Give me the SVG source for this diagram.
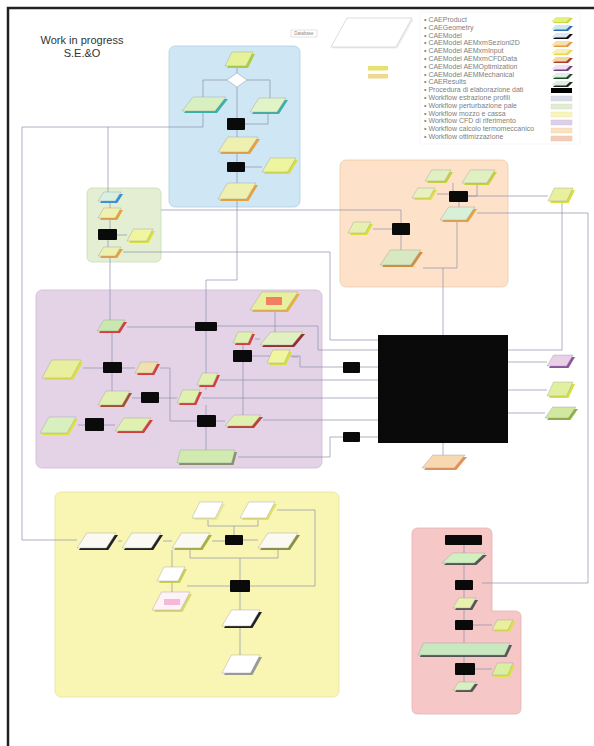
<svg xmlns="http://www.w3.org/2000/svg" xmlns:xlink="http://www.w3.org/1999/xlink" width="594" height="746" viewBox="0 0 594 746">
<style>
.grp{stroke-width:0.8}
.k{fill:#0a0a0a}
.f{stroke:#9a9a9a;stroke-width:0.4}
.ln{fill:none;stroke:#8d91ad;stroke-width:0.7}
.lg{font-family:"Liberation Sans",Arial,sans-serif;font-size:7px;fill:#808080}
.ttl{font-family:"Liberation Sans",Arial,sans-serif;font-size:11px;fill:#333}
</style>
<defs>
<path id="pg" d="M0.25,0 H1 L0.75,1 H0 Z" vector-effect="non-scaling-stroke"/>
<path id="pgw" d="M0.06,0 H1 L0.94,1 H0 Z" vector-effect="non-scaling-stroke"/>
</defs>
<rect width="594" height="746" fill="#fff"/>
<path d="M8,746 V8 H594" fill="none" stroke="#222" stroke-width="2.5"/>
<text class="ttl" x="82" y="44" text-anchor="middle">Work in progress</text>
<text class="ttl" x="82" y="57" text-anchor="middle">S.E.&amp;O</text>

<!-- header -->
<g id="database">
<rect x="291" y="30" width="26" height="7" fill="#fff" stroke="#bbb" stroke-width="0.4"/>
<text x="304" y="35.2" text-anchor="middle" font-family="Liberation Sans, Arial, sans-serif" font-size="4.5" fill="#888">Database</text>
</g>
<g id="legend-node">
<polygon points="347,18 412,18 396,47 331,47" fill="#eee" transform="translate(1.5,1.5)"/>
<polygon points="347,18 412,18 396,47 331,47" fill="#fff" stroke="#bbb" stroke-width="0.5"/>
</g>
<g id="datasets">
<rect x="368" y="66" width="20" height="4.5" fill="#e8e070"/>
<rect x="368" y="74" width="20" height="4.5" fill="#f0d890"/>
</g>

<!-- legend -->
<g id="legend">
<rect x="420" y="12" width="160" height="132" fill="#fff" stroke="#f0f0f0" stroke-width="0.6"/>
<g class="lg">
<text x="424" y="22">•  CAEProduct</text>
<text x="424" y="29.8">•  CAEGeometry</text>
<text x="424" y="37.6">•  CAEModel</text>
<text x="424" y="45.4">•  CAEModel AEMxmSezioni2D</text>
<text x="424" y="53.2">•  CAEModel AEMxmInput</text>
<text x="424" y="61">•  CAEModel AEMxmCFDData</text>
<text x="424" y="68.8">•  CAEModel AEMOptimization</text>
<text x="424" y="76.6">•  CAEModel AEMMechanical</text>
<text x="424" y="84.4">•  CAEResults</text>
<text x="424" y="92.2">•  Procedura di elaborazione dati</text>
<text x="424" y="100">•  Workflow estrazione profili</text>
<text x="424" y="107.8">•  Workflow perturbazione pale</text>
<text x="424" y="115.6">•  Workflow mozzo e cassa</text>
<text x="424" y="123.4">•  Workflow CFD di riferimento</text>
<text x="424" y="131.2">•  Workflow calcolo termomeccanico</text>
<text x="424" y="139">•  Workflow ottimizzazione</text>
</g>
<g id="swatches">
<use href="#pg" transform="translate(553,18) scale(20,5)" fill="#c8d840"/><use href="#pg" transform="translate(551,17) scale(20,5)" fill="#e6f07a"/>
<use href="#pg" transform="translate(553,26) scale(20,5)" fill="#2a70b0"/><use href="#pg" transform="translate(551,25) scale(20,4.5)" fill="#cfe6f0"/>
<use href="#pg" transform="translate(553,34) scale(20,5)" fill="#111"/><use href="#pg" transform="translate(551,33) scale(20,4.5)" fill="#dfe8f0"/>
<use href="#pg" transform="translate(553,42) scale(20,5)" fill="#e89a40"/><use href="#pg" transform="translate(551,41) scale(20,4.5)" fill="#f6e0b0"/>
<use href="#pg" transform="translate(553,50) scale(20,5)" fill="#e8d850"/><use href="#pg" transform="translate(551,49) scale(20,4.5)" fill="#f8f0b0"/>
<use href="#pg" transform="translate(553,58) scale(20,5)" fill="#b03a30"/><use href="#pg" transform="translate(551,57) scale(20,4.5)" fill="#f0d8a0"/>
<use href="#pg" transform="translate(553,66) scale(20,5)" fill="#7a3a8a"/><use href="#pg" transform="translate(551,65) scale(20,4.5)" fill="#f0e0f0"/>
<use href="#pg" transform="translate(553,74) scale(20,5)" fill="#234a30"/><use href="#pg" transform="translate(551,73) scale(20,4.5)" fill="#e0f0e0"/>
<use href="#pg" transform="translate(553,82) scale(20,5)" fill="#1a2a20"/><use href="#pg" transform="translate(551,81) scale(20,4.5)" fill="#e0ece0"/>
<rect x="551" y="88" width="21" height="5" fill="#000"/>
<rect x="551" y="96" width="21" height="5" fill="#d8dce8" stroke="#c8ccd8" stroke-width="0.4"/>
<rect x="551" y="104" width="21" height="5" fill="#e2ecd2" stroke="#d0dcc0" stroke-width="0.4"/>
<rect x="551" y="112" width="21" height="5" fill="#f8f4bc" stroke="#e8e4a8" stroke-width="0.4"/>
<rect x="551" y="120" width="21" height="5" fill="#dccfe6" stroke="#ccbfd8" stroke-width="0.4"/>
<rect x="551" y="128" width="21" height="5" fill="#f9e2c0" stroke="#eed0a8" stroke-width="0.4"/>
<rect x="551" y="136" width="21" height="5" fill="#f2cdb8" stroke="#e4bca4" stroke-width="0.4"/>
</g>
</g>

<!-- group backgrounds -->
<g id="groups">
<rect id="g-blue" class="grp" x="169" y="46" width="131" height="161" rx="6" fill="#cfe6f4" stroke="#b2cee0"/>
<rect id="g-green" class="grp" x="87" y="188" width="74" height="74" rx="5" fill="#e3eed2" stroke="#ccdcb8"/>
<rect id="g-orange" class="grp" x="340" y="160" width="168" height="127" rx="6" fill="#fde2c9" stroke="#efcaa8"/>
<rect id="g-purple" class="grp" x="36" y="290" width="286" height="178" rx="6" fill="#e4d3e6" stroke="#cdbad2"/>
<rect id="g-yellow" class="grp" x="55" y="492" width="284" height="205" rx="6" fill="#f9f6b4" stroke="#e6e2a0"/>
<path id="g-pink" class="grp" d="M418,528 H486 Q492,528 492,534 V611 H515 Q521,611 521,617 V708 Q521,714 515,714 H418 Q412,714 412,708 V534 Q412,528 418,528 Z" fill="#f5c7c7" stroke="#e6b2b2"/>
</g>

<!-- connectors -->
<g id="connectors" class="ln">
<path d="M237,66 V73"/>
<path d="M227,80 H203 V97 M247,80 H270 V98"/>
<path d="M203,113 V127 H22 V540 H77"/>
<path d="M108,127 V192"/>
<path d="M237,87 V118 M237,130 V137 M237,154 V162 M237,172 V183 M237,201 V280 H206 V322"/>
<path d="M245,167 H262"/>
<path d="M268,114 V124 H245"/>
<path d="M110,203 V208 M110,220 V229 M108,240 V247 M117,235 H127"/>
<path d="M110,258 V320"/>
<path d="M123,252 H330 V340 H378"/>
<path d="M161,210 H401 V223"/>
<path d="M453,183 V191 M477,185 V196 H468 M437,194 H449 M459,202 V207"/>
<path d="M468,196 H548"/>
<path d="M562,203 V350 H508"/>
<path d="M477,213 H588 V583 H482"/>
<path d="M401,235 V250 M392,229 H373"/>
<path d="M457,222 V268 H423 M443,268 V335"/>
<path d="M443,443 V455"/>
<path d="M508,362 H547 M508,390 H547 M508,413 H545"/>
<path d="M127,327 H195"/>
<path d="M217,326 H318 V350 H378"/>
<path d="M252,356 H300 V367 H343 M360,367 H378"/>
<path d="M292,357 H298"/>
<path d="M220,380 H378"/>
<path d="M202,398 H378"/>
<path d="M263,420 H378 M216,421 H225"/>
<path d="M238,457 H330 V437 H343 M360,437 H378"/>
<path d="M112,333 V362 M112,373 V391 M83,368 H103 M122,368 H135"/>
<path d="M132,398 H141 M159,398 H177"/>
<path d="M78,425 H85 M104,425 H115"/>
<path d="M160,368 H170 V421 H197"/>
<path d="M206,330 V373 M206,387 V390 M206,405 V415 M206,427 V450"/>
<path d="M243,345 V350 M243,362 V415"/>
<path d="M275,312 V332 M255,339 H260"/>
<path d="M118,541 H122 M163,541 H172 M212,541 H225 M243,540 H258"/>
<path d="M208,520 V526 H258 V520 M234,526 V535"/>
<path d="M277,510 H315 V586 H250"/>
<path d="M190,550 V558 H278 V550 M240,558 V580"/>
<path d="M172,550 V567 M172,583 V592 M187,586 H230"/>
<path d="M240,592 V610 M240,628 V655"/>
<path d="M464,545 V553 M464,565 V580 M464,590 V598 M464,610 V620 M464,630 V643 M464,657 V663 M464,675 V682 M473,625 H492 M475,669 H492"/>
</g>

<!-- blue group nodes -->
<g id="b1"><use href="#pg" transform="translate(227,54) scale(28,14)" fill="#a8d040"/><use class="f" href="#pg" transform="translate(225,52) scale(28,14)" fill="#e6f29a"/></g>
<g id="b-diamond"><polygon points="237,73 247,80 237,87 227,80" fill="#fff" stroke="#999" stroke-width="0.5"/></g>
<g id="b2"><use href="#pg" transform="translate(184,99) scale(44,14)" fill="#3ab0a8"/><use class="f" href="#pg" transform="translate(182,97) scale(44,14)" fill="#d8f0c0"/></g>
<g id="b3"><use href="#pg" transform="translate(252,100) scale(36,14)" fill="#3ab0a8"/><use class="f" href="#pg" transform="translate(250,98) scale(36,14)" fill="#e0f4c8"/></g>
<rect id="bk1" class="k" x="227" y="118" width="18" height="12" rx="1"/>
<g id="b4"><use href="#pg" transform="translate(220,139) scale(40,15)" fill="#e8a040"/><use class="f" href="#pg" transform="translate(218,137) scale(40,15)" fill="#eef0b0"/></g>
<rect id="bk2" class="k" x="227" y="162" width="18" height="10" rx="1"/>
<g id="b5"><use href="#pg" transform="translate(264,160) scale(34,14)" fill="#d8e040"/><use class="f" href="#pg" transform="translate(262,158) scale(34,14)" fill="#eef5a0"/></g>
<g id="b6"><use href="#pg" transform="translate(220,185) scale(38,16)" fill="#e8a040"/><use class="f" href="#pg" transform="translate(218,183) scale(38,16)" fill="#eef0b0"/></g>

<!-- green group nodes -->
<g id="g1"><use href="#pg" transform="translate(100,194) scale(23,9)" fill="#3a90d0"/><use class="f" href="#pg" transform="translate(98,192) scale(23,9)" fill="#d8f0e0"/></g>
<g id="g2"><use href="#pg" transform="translate(100,210) scale(23,10)" fill="#e8a040"/><use class="f" href="#pg" transform="translate(98,208) scale(23,10)" fill="#f0f0b0"/></g>
<rect id="gk" class="k" x="98" y="229" width="19" height="11" rx="1"/>
<g id="g3"><use href="#pg" transform="translate(129,231) scale(26,12)" fill="#d8e040"/><use class="f" href="#pg" transform="translate(127,229) scale(26,12)" fill="#f0f5a0"/></g>
<g id="g4"><use href="#pg" transform="translate(100,249) scale(23,9)" fill="#e8a040"/><use class="f" href="#pg" transform="translate(98,247) scale(23,9)" fill="#eef0b0"/></g>

<!-- orange group nodes -->
<g id="o1"><use href="#pg" transform="translate(427,172) scale(26,11)" fill="#c8d040"/><use class="f" href="#pg" transform="translate(425,170) scale(26,11)" fill="#e0f0c0"/></g>
<g id="o2"><use href="#pg" transform="translate(464,172) scale(33,13)" fill="#c8d040"/><use class="f" href="#pg" transform="translate(462,170) scale(33,13)" fill="#e0f0c0"/></g>
<g id="o3"><use href="#pg" transform="translate(414,190) scale(23,10)" fill="#e0e040"/><use class="f" href="#pg" transform="translate(412,188) scale(23,10)" fill="#e8f0c0"/></g>
<rect id="ok1" class="k" x="449" y="191" width="19" height="11" rx="1"/>
<g id="o4"><use href="#pg" transform="translate(442,209) scale(35,13)" fill="#e8a040"/><use class="f" href="#pg" transform="translate(440,207) scale(35,13)" fill="#d8f0d8"/></g>
<g id="o5"><use href="#pg" transform="translate(350,224) scale(23,11)" fill="#d8e040"/><use class="f" href="#pg" transform="translate(348,222) scale(23,11)" fill="#e8f0b0"/></g>
<rect id="ok2" class="k" x="392" y="223" width="18" height="12" rx="1"/>
<g id="o6"><use href="#pg" transform="translate(382,252) scale(41,15)" fill="#d09040"/><use class="f" href="#pg" transform="translate(380,250) scale(41,15)" fill="#d8e8c0"/></g>
<g id="o7"><use href="#pg" transform="translate(550,190) scale(25,13)" fill="#d8e040"/><use class="f" href="#pg" transform="translate(548,188) scale(25,13)" fill="#e8f0a0"/></g>

<!-- purple group nodes -->
<g id="p1"><use href="#pg" transform="translate(99,322) scale(28,11)" fill="#d04040"/><use class="f" href="#pg" transform="translate(97,320) scale(28,11)" fill="#c8e8b0"/></g>
<rect id="pk1" class="k" x="195" y="322" width="22" height="9" rx="1"/>
<g id="p2"><use href="#pg" transform="translate(44,362) scale(39,18)" fill="#e0e040"/><use class="f" href="#pg" transform="translate(42,360) scale(39,18)" fill="#e8f0a0"/></g>
<rect id="pk2" class="k" x="103" y="362" width="19" height="11" rx="1"/>
<g id="p3"><use href="#pg" transform="translate(137,364) scale(23,11)" fill="#d04040"/><use class="f" href="#pg" transform="translate(135,362) scale(23,11)" fill="#f0e0b0"/></g>
<g id="p4"><use href="#pg" transform="translate(199,375) scale(21,12)" fill="#d04040"/><use class="f" href="#pg" transform="translate(197,373) scale(21,12)" fill="#e0f0b0"/></g>
<g id="p5"><use href="#pg" transform="translate(100,393) scale(32,14)" fill="#a05030"/><use class="f" href="#pg" transform="translate(98,391) scale(32,14)" fill="#e0f0b0"/></g>
<rect id="pk3" class="k" x="141" y="392" width="18" height="11" rx="1"/>
<g id="p6"><use href="#pg" transform="translate(179,392) scale(23,13)" fill="#d04040"/><use class="f" href="#pg" transform="translate(177,390) scale(23,13)" fill="#e0f0b0"/></g>
<g id="p7"><use href="#pg" transform="translate(42,419) scale(36,16)" fill="#e0e040"/><use class="f" href="#pg" transform="translate(40,417) scale(36,16)" fill="#d8f0c0"/></g>
<rect id="pk4" class="k" x="85" y="418" width="19" height="13" rx="1"/>
<g id="p8"><use href="#pg" transform="translate(117,420) scale(36,13)" fill="#d04040"/><use class="f" href="#pg" transform="translate(115,418) scale(36,13)" fill="#e0f0b0"/></g>
<rect id="pk5" class="k" x="197" y="415" width="19" height="12" rx="1"/>
<g id="p9"><use href="#pgw" transform="translate(179,452) scale(58,13)" fill="#889070"/><use class="f" href="#pgw" transform="translate(177,450) scale(58,13)" fill="#d0eab0"/></g>
<g id="p10"><use href="#pg" transform="translate(252,294) scale(48,18)" fill="#e8b040"/><use class="f" href="#pg" transform="translate(250,292) scale(48,18)" fill="#e8f0a0"/><rect x="266" y="297" width="16" height="8" fill="#f08060"/></g>
<g id="p11"><use href="#pg" transform="translate(235,334) scale(20,11)" fill="#d04040"/><use class="f" href="#pg" transform="translate(233,332) scale(20,11)" fill="#e0f0b0"/></g>
<g id="p12"><use href="#pg" transform="translate(262,334) scale(43,13)" fill="#903030"/><use class="f" href="#pg" transform="translate(260,332) scale(43,13)" fill="#e0f0c0"/></g>
<rect id="pk6" class="k" x="233" y="350" width="19" height="12" rx="1"/>
<g id="p13"><use href="#pg" transform="translate(269,352) scale(23,13)" fill="#d8e040"/><use class="f" href="#pg" transform="translate(267,350) scale(23,13)" fill="#f0f5a0"/></g>
<g id="p14"><use href="#pg" transform="translate(227,417) scale(36,11)" fill="#c04030"/><use class="f" href="#pg" transform="translate(225,415) scale(36,11)" fill="#e0f0b0"/></g>
<rect id="xk1" class="k" x="343" y="362" width="17" height="11" rx="1"/>
<rect id="xk2" class="k" x="343" y="432" width="17" height="10" rx="1"/>

<!-- central process -->
<rect id="main-process" class="k" x="378" y="335" width="130" height="108"/>
<g id="o8"><use href="#pg" transform="translate(424,457) scale(43,13)" fill="#e89050"/><use class="f" href="#pg" transform="translate(422,455) scale(43,13)" fill="#f8d8b0"/></g>
<g id="r1"><use href="#pg" transform="translate(549,357) scale(26,11)" fill="#9050a0"/><use class="f" href="#pg" transform="translate(547,355) scale(26,11)" fill="#e8d0e8"/></g>
<g id="r2"><use href="#pg" transform="translate(549,384) scale(26,14)" fill="#d8e040"/><use class="f" href="#pg" transform="translate(547,382) scale(26,14)" fill="#e0f0a0"/></g>
<g id="r3"><use href="#pg" transform="translate(547,409) scale(31,11)" fill="#90b040"/><use class="f" href="#pg" transform="translate(545,407) scale(31,11)" fill="#d0e8a0"/></g>

<!-- yellow group nodes -->
<g id="y1"><use href="#pg" transform="translate(194,504) scale(31,16)" fill="#e8e8a0"/><use class="f" href="#pg" transform="translate(192,502) scale(31,16)" fill="#fff"/></g>
<g id="y2"><use href="#pg" transform="translate(242,504) scale(35,16)" fill="#e0e070"/><use class="f" href="#pg" transform="translate(240,502) scale(35,16)" fill="#fff"/></g>
<g id="y3"><use href="#pg" transform="translate(79,535) scale(39,15)" fill="#222"/><use class="f" href="#pg" transform="translate(77,533) scale(39,15)" fill="#fafaf2"/></g>
<g id="y4"><use href="#pg" transform="translate(124,535) scale(39,15)" fill="#222"/><use class="f" href="#pg" transform="translate(122,533) scale(39,15)" fill="#fafaf2"/></g>
<g id="y5"><use href="#pg" transform="translate(174,535) scale(38,15)" fill="#aab040"/><use class="f" href="#pg" transform="translate(172,533) scale(38,15)" fill="#fafaf2"/></g>
<rect id="yk1" class="k" x="225" y="535" width="18" height="10" rx="1"/>
<g id="y6"><use href="#pg" transform="translate(260,535) scale(40,15)" fill="#8a9040"/><use class="f" href="#pg" transform="translate(258,533) scale(40,15)" fill="#fafaf2"/></g>
<g id="y7"><use href="#pg" transform="translate(159,569) scale(28,14)" fill="#c8d050"/><use class="f" href="#pg" transform="translate(157,567) scale(28,14)" fill="#fff"/></g>
<rect id="yk2" class="k" x="230" y="580" width="20" height="12" rx="1"/>
<g id="y8"><use href="#pg" transform="translate(154,594) scale(38,18)" fill="#d8d870"/><use class="f" href="#pg" transform="translate(152,592) scale(38,18)" fill="#fff2f6"/><rect x="164" y="599" width="16" height="6" fill="#f4b8d8"/></g>
<g id="y9"><use href="#pg" transform="translate(224,612) scale(38,16)" fill="#222"/><use class="f" href="#pg" transform="translate(222,610) scale(38,16)" fill="#fff"/></g>
<g id="y10"><use href="#pg" transform="translate(224,657) scale(38,18)" fill="#999"/><use class="f" href="#pg" transform="translate(222,655) scale(38,18)" fill="#fff"/></g>

<!-- pink group nodes -->
<rect id="kk1" class="k" x="445" y="535" width="37" height="10" rx="1"/>
<g id="k1"><use href="#pg" transform="translate(444,555) scale(43,10)" fill="#555"/><use class="f" href="#pg" transform="translate(442,553) scale(43,10)" fill="#d0f0c0"/></g>
<rect id="kk2" class="k" x="455" y="580" width="18" height="10" rx="1"/>
<g id="k2"><use href="#pg" transform="translate(455,600) scale(23,10)" fill="#555"/><use class="f" href="#pg" transform="translate(453,598) scale(23,10)" fill="#e8f0b0"/></g>
<rect id="kk3" class="k" x="455" y="620" width="18" height="10" rx="1"/>
<g id="k3"><use href="#pg" transform="translate(494,622) scale(21,10)" fill="#e0e040"/><use class="f" href="#pg" transform="translate(492,620) scale(21,10)" fill="#e8f0a0"/></g>
<g id="k4"><use href="#pgw" transform="translate(420,645) scale(92,12)" fill="#555"/><use class="f" href="#pgw" transform="translate(418,643) scale(92,12)" fill="#c8e8c0"/></g>
<rect id="kk4" class="k" x="455" y="663" width="20" height="12" rx="1"/>
<g id="k5"><use href="#pg" transform="translate(494,665) scale(21,12)" fill="#e0e040"/><use class="f" href="#pg" transform="translate(492,663) scale(21,12)" fill="#d8f0a0"/></g>
<g id="k6"><use href="#pg" transform="translate(455,684) scale(23,8)" fill="#555"/><use class="f" href="#pg" transform="translate(453,682) scale(23,8)" fill="#d8f0c0"/></g>
</svg>
